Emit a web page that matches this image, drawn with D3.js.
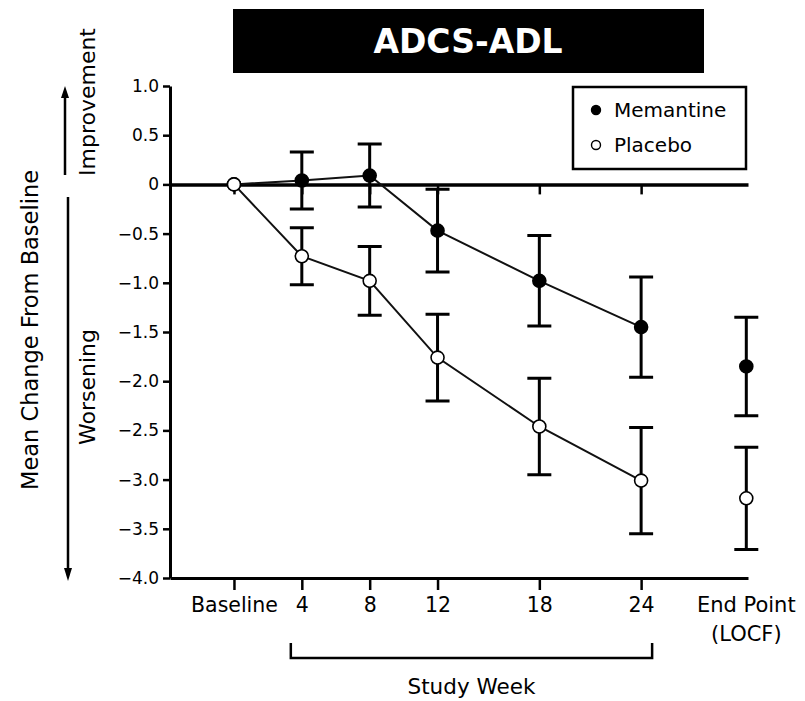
<!DOCTYPE html>
<html>
<head>
<meta charset="utf-8">
<script src="https://cdn.jsdelivr.net/npm/d3@7"></script>
<style>
  html, body { margin: 0; padding: 0; background: #fff; }
  svg { display: block; }
  text { font-family: "DejaVu Sans", "Liberation Sans", sans-serif; fill: #000; }
</style>
</head>
<body>
<svg id="chart" width="805" height="701"></svg>
<script>
// Study visits (weeks) and their axis labels
const weeks = [0, 4, 8, 12, 18, 24];
const weekLabels = ["Baseline", "4", "8", "12", "18", "24"];

// Mean change from baseline in ADCS-ADL score, with error bar half-widths
const memantineMean = [0, 0.04, 0.09, -0.47, -0.98, -1.45];
const memantineErr  = [0, 0.29, 0.32, 0.42, 0.46, 0.51];
const placeboMean   = [0, -0.73, -0.98, -1.76, -2.46, -3.01];
const placeboErr    = [0, 0.29, 0.35, 0.44, 0.49, 0.54];

// End point (last observation carried forward)
const endpointMemantine = { mean: -1.85, err: 0.50 };
const endpointPlacebo   = { mean: -3.19, err: 0.52 };
const endpointSlot = 30.2;   // position of the LOCF column in week units

// Y axis ticks
const yTicks = [1.0, 0.5, 0, -0.5, -1.0, -1.5, -2.0, -2.5, -3.0, -3.5, -4.0];
const yTickLabels = ["1.0", "0.5", "0", "\u22120.5", "\u22121.0", "\u22121.5", "\u22122.0",
                     "\u22122.5", "\u22123.0", "\u22123.5", "\u22124.0"];

const svg = d3.select("#chart");

const x = d3.scaleLinear().domain([-3.77, 30.3]).range([170, 748]);
const y = d3.scaleLinear().domain([-4, 1]).range([578, 86]);

// Title banner
svg.append("rect").attr("x", 233).attr("y", 9).attr("width", 471).attr("height", 64).attr("fill", "#000");
svg.append("text").attr("x", 468).attr("y", 53).attr("text-anchor", "middle")
  .style("font-family", "'DejaVu Sans', sans-serif").style("font-weight", "bold")
  .style("font-size", "33px").style("fill", "#fff").text("ADCS-ADL");

// Y axis
const yAxis = svg.append("g").attr("transform", `translate(${x.range()[0]},0)`)
  .call(d3.axisLeft(y).tickValues(yTicks).tickSize(7).tickSizeOuter(0).tickPadding(4)
    .tickFormat((d, i) => yTickLabels[i]));
yAxis.select(".domain").attr("stroke", "#000").attr("stroke-width", 3);
yAxis.selectAll(".tick line").attr("stroke", "#000").attr("stroke-width", 2.5);
yAxis.selectAll(".tick text").style("font-family", "'DejaVu Sans', sans-serif")
  .style("font-size", "17px").attr("fill", "#000");

// Bottom axis with visit labels
const xAxis = svg.append("g").attr("transform", `translate(0,${y(-4)})`)
  .call(d3.axisBottom(x).tickValues(weeks).tickSize(12).tickSizeOuter(0).tickPadding(7)
    .tickFormat((d, i) => weekLabels[i]));
xAxis.select(".domain").attr("stroke", "#000").attr("stroke-width", 3);
xAxis.selectAll(".tick line").attr("stroke", "#000").attr("stroke-width", 2.5);
xAxis.selectAll(".tick text").style("font-family", "'DejaVu Sans', sans-serif")
  .style("font-size", "20.5px").attr("fill", "#000");

// Zero reference line with ticks
const zeroAxis = svg.append("g").attr("transform", `translate(0,${y(0)})`)
  .call(d3.axisBottom(x).tickValues(weeks).tickSize(10).tickSizeOuter(0).tickFormat(""));
zeroAxis.select(".domain").attr("stroke", "#000").attr("stroke-width", 3.5);
zeroAxis.selectAll(".tick line").attr("stroke", "#000").attr("stroke-width", 2.5);

// End point label
svg.append("text").attr("x", x(endpointSlot)).attr("y", 612).attr("text-anchor", "middle")
  .style("font-size", "21px").text("End Point");
svg.append("text").attr("x", x(endpointSlot)).attr("y", 641).attr("text-anchor", "middle")
  .style("font-size", "21px").text("(LOCF)");

// Bracket spanning the study weeks
const bx0 = x(weeks[1]) - 11, bx1 = x(weeks[weeks.length - 1]) + 11;
svg.append("path")
  .attr("d", `M${bx0},643 V658 H${bx1} V643`)
  .attr("fill", "none").attr("stroke", "#000").attr("stroke-width", 2.5);
svg.append("text").attr("x", (bx0 + bx1) / 2).attr("y", 694).attr("text-anchor", "middle")
  .style("font-size", "21.5px").text("Study Week");

// Y axis title and direction arrows
svg.append("text").attr("transform", "translate(38,330) rotate(-90)").attr("text-anchor", "middle")
  .style("font-size", "22.5px").text("Mean Change From Baseline");
svg.append("text").attr("transform", "translate(95,102) rotate(-90)").attr("text-anchor", "middle")
  .style("font-size", "22px").text("Improvement");
svg.append("text").attr("transform", "translate(95,387) rotate(-90)").attr("text-anchor", "middle")
  .style("font-size", "22px").text("Worsening");

svg.append("line").attr("x1", 65).attr("x2", 65).attr("y1", 175).attr("y2", 96)
  .attr("stroke", "#000").attr("stroke-width", 2.5);
svg.append("path").attr("d", "M61,98 L65,86 L69,98 Z").attr("fill", "#000");
svg.append("line").attr("x1", 68).attr("x2", 68).attr("y1", 197).attr("y2", 570)
  .attr("stroke", "#000").attr("stroke-width", 2.5);
svg.append("path").attr("d", "M64,568 L68,581 L72,568 Z").attr("fill", "#000");

// Series assembled from the arrays above
const series = [
  { name: "Memantine", mean: memantineMean, err: memantineErr, end: endpointMemantine, fill: "#000" },
  { name: "Placebo",   mean: placeboMean,   err: placeboErr,   end: endpointPlacebo,   fill: "#fff" }
];

const capW = 12;
const plot = svg.append("g");

// Error bars (drawn first so markers sit on top)
series.forEach(s => {
  const pts = weeks.map((w, i) => ({ w, m: s.mean[i], e: s.err[i] })).filter(p => p.e > 0);
  pts.push({ w: endpointSlot, m: s.end.mean, e: s.end.err });
  const g = plot.append("g").attr("stroke", "#000").attr("stroke-width", 3).attr("fill", "none");
  g.selectAll("path").data(pts).join("path")
    .attr("d", p => {
      const cx = x(p.w), top = y(p.m + p.e), bot = y(p.m - p.e);
      return `M${cx},${top} V${bot} M${cx - capW},${top} H${cx + capW} M${cx - capW},${bot} H${cx + capW}`;
    });
});

// Connecting lines
const line = d3.line().x(d => x(d.w)).y(d => y(d.m));
series.forEach(s => {
  plot.append("path")
    .datum(weeks.map((w, i) => ({ w, m: s.mean[i] })))
    .attr("d", line).attr("fill", "none").attr("stroke", "#111").attr("stroke-width", 2);
});

// Markers: memantine first, placebo over it (baseline shows the open circle)
series.forEach(s => {
  const pts = weeks.map((w, i) => ({ w, m: s.mean[i] }));
  pts.push({ w: endpointSlot, m: s.end.mean });
  plot.append("g").selectAll("circle").data(pts).join("circle")
    .attr("cx", d => x(d.w)).attr("cy", d => y(d.m)).attr("r", 6.5)
    .attr("fill", s.fill).attr("stroke", "#000").attr("stroke-width", 1.6);
});

// Legend
const legend = svg.append("g");
legend.append("rect").attr("x", 573).attr("y", 87).attr("width", 173).attr("height", 82)
  .attr("fill", "#fff").attr("stroke", "#000").attr("stroke-width", 2.5);
series.forEach((s, i) => {
  const cy = 110 + i * 35;
  legend.append("circle").attr("cx", 596).attr("cy", cy).attr("r", 4.5)
    .attr("fill", s.fill).attr("stroke", "#000").attr("stroke-width", 1.4);
  legend.append("text").attr("x", 614).attr("y", cy + 7).style("font-size", "20px").text(s.name);
});
</script>
</body>
</html>
